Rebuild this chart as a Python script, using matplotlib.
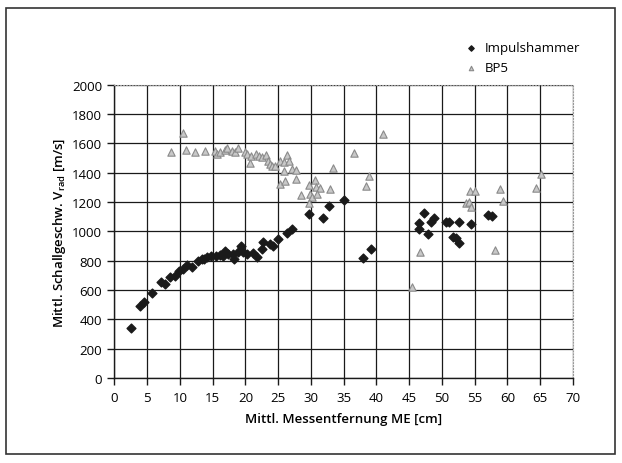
import matplotlib
matplotlib.use("Agg")
import matplotlib.pyplot as plt
from matplotlib.patches import Rectangle

plt.rcParams['font.family'] = ['Open Sans', 'DejaVu Sans']

# Impulshammer: distance [cm], velocity [m/s]
imp_x = [2.5, 3.9, 4.5, 5.7, 7.1, 7.7, 8.5, 9.2, 9.9, 10.5, 11.1, 11.8, 12.8, 13.3,
         13.6, 14.2, 14.8, 15.5, 16.1, 16.5, 16.9, 17.4, 18.1, 18.2, 18.8, 19.4, 19.6,
         20.3, 21.1, 21.7, 22.5, 22.7, 23.7, 24.2, 25.0, 26.4, 27.1, 29.7, 31.8, 32.7,
         35.0, 38.0, 39.2, 46.5, 46.5, 47.3, 47.9, 48.4, 48.8, 50.6, 51.1, 51.7, 52.2,
         52.6, 52.6, 54.4, 57.1, 57.6]
imp_y = [340, 494, 521, 582, 658, 642, 689, 694, 732, 744, 771, 756, 801, 815,
         812, 826, 833, 833, 838, 830, 869, 848, 846, 812, 860, 903, 860,
         845, 853, 826, 880, 928, 915, 903, 949, 988, 1017, 1119, 1090, 1174,
         1215, 817, 880, 1017, 1056, 1124, 983, 1067, 1090, 1067, 1067, 965, 954,
         919, 1067, 1049, 1115, 1104]

# BP5
bp_x = [8.7, 10.5, 10.9, 12.3, 13.8, 15.3, 15.6, 16.1, 16.9, 17.2, 18.0, 18.4, 18.9,
        19.9, 20.2, 20.7, 20.9, 21.6, 22.0, 22.6, 23.2, 23.5, 23.7, 24.0, 24.5, 25.3,
        25.9, 26.4, 26.6, 25.9, 27.1, 27.7, 25.3, 26.0, 27.7, 28.5, 29.7, 30.7, 29.8,
        30.1, 29.7, 30.8, 31.4, 31.0, 32.9, 33.3, 36.6, 38.9, 38.4, 41.0, 45.5, 46.6,
        53.7, 54.2, 54.4, 54.3, 55.0, 58.1, 58.9, 59.3, 64.3, 65.2]
bp_y = [1540, 1672, 1556, 1545, 1552, 1552, 1529, 1540, 1558, 1568, 1552, 1545, 1568,
        1545, 1529, 1468, 1517, 1529, 1517, 1506, 1522, 1483, 1461, 1449, 1449, 1483,
        1477, 1522, 1483, 1415, 1427, 1420, 1322, 1343, 1358, 1249, 1317, 1354, 1256,
        1233, 1195, 1302, 1295, 1256, 1290, 1431, 1534, 1381, 1313, 1666, 619, 858,
        1193, 1199, 1165, 1279, 1279, 876, 1290, 1210, 1297, 1392]

fig = plt.figure(figsize=(6.22, 4.64), dpi=100)
ax = fig.add_axes([0.184, 0.183, 0.737, 0.632])

ax.scatter(imp_x, imp_y, marker='D', s=20, color='#1a1a1a', zorder=3,
           label='Impulshammer')
ax.scatter(bp_x, bp_y, marker='^', s=28, facecolor='#c8c8c8', edgecolor='#8a8a8a',
           linewidth=0.8, zorder=3, label='BP5')

ax.set_xlim(0, 70)
ax.set_ylim(0, 2000)
ax.set_xticks(range(0, 71, 5))
ax.set_yticks(range(0, 2001, 200))
ax.grid(True, color='#1a1a1a', linewidth=0.9)
ax.set_axisbelow(True)
ax.tick_params(labelsize=9.5, length=5, width=1, color='#1a1a1a', pad=4)
for side in ['top', 'right']:
    ax.spines[side].set_color('#999999')
    ax.spines[side].set_linestyle(':')
for side in ['left', 'bottom']:
    ax.spines[side].set_color('#1a1a1a')
    ax.spines[side].set_linewidth(1.0)

ax.set_xlabel('Mittl. Messentfernung ME [cm]', fontsize=9.5, fontweight='semibold',
              labelpad=6)
ax.set_ylabel('Mittl. Schallgeschw. V$_{\\mathregular{rad}}$ [m/s]', fontsize=9.5,
              fontweight='semibold', labelpad=3)

ax.legend(loc='upper left', bbox_to_anchor=(0.728, 0.92), bbox_transform=fig.transFigure,
          frameon=False, fontsize=9.5, handletextpad=0.05, markerscale=0.6,
          labelspacing=0.5, borderaxespad=0)

fig.patches.append(Rectangle((6 / 622, 9 / 464), 609 / 622, 446 / 464,
                             transform=fig.transFigure, fill=False,
                             edgecolor='#333333', linewidth=1.2))

fig.savefig('out.png', dpi=100)
